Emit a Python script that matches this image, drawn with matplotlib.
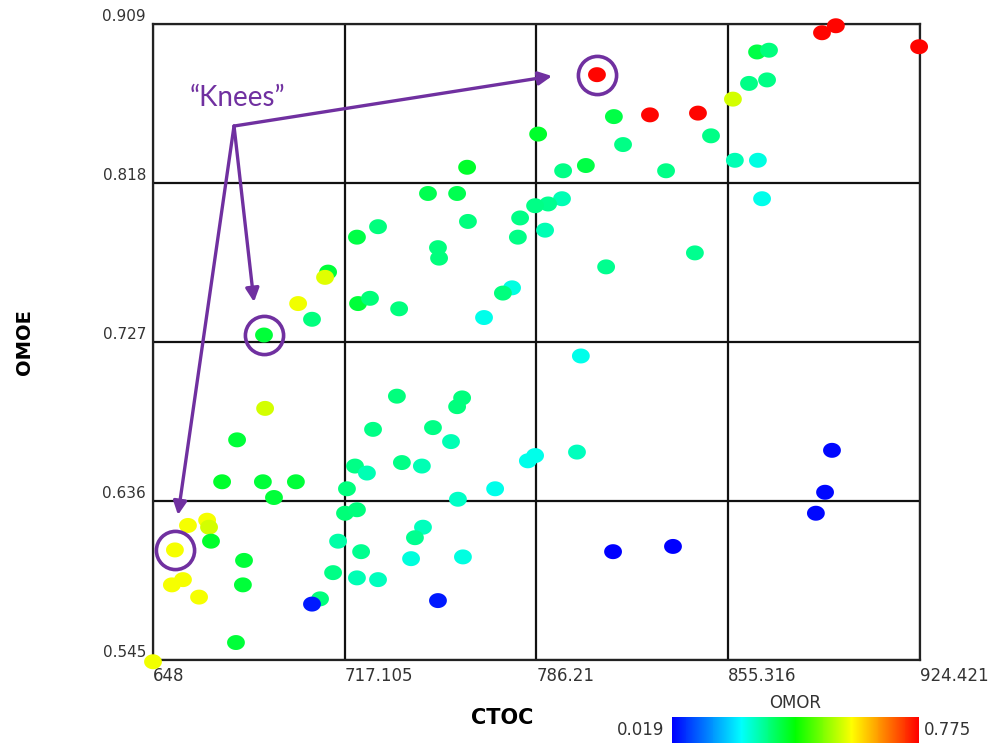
import numpy as np
import matplotlib
matplotlib.use("Agg")
import matplotlib.pyplot as plt
from matplotlib.colors import LinearSegmentedColormap, Normalize
from matplotlib.cm import ScalarMappable
from matplotlib.path import Path

# CTOC / OMOE / OMOR of each design point
ctoc = [924.1, 889.1, 894.1, 865.7, 870.0, 808.0, 862.8, 869.3, 857.0, 827.1,
        844.4, 814.1, 786.8, 817.4, 849.1, 857.7, 866.0, 795.8, 804.0, 832.9,
        867.5, 795.4, 790.4, 785.7, 780.3, 789.3, 779.5, 761.2, 747.1, 757.6,
        761.5, 729.1, 721.5, 750.7, 751.1, 711.1, 710.0, 777.4, 774.1, 700.3,
        721.9, 726.2, 736.7, 705.3, 767.3, 688.0, 843.3, 811.3, 802.2, 735.9,
        759.4, 757.6, 688.4, 678.3, 727.3, 748.9, 755.4, 720.8, 725.1, 737.7,
        744.9, 783.1, 785.7, 800.8, 892.7, 672.9, 687.6, 699.5, 691.6, 717.9,
        771.3, 757.9, 717.2, 721.5, 660.6, 667.5, 668.2, 668.9, 655.9, 714.7,
        745.3, 742.4, 723.0, 741.0, 759.7, 680.8, 712.9, 721.5, 729.1, 654.8,
        658.8, 680.4, 664.6, 708.2, 705.3, 750.7, 677.9, 648.0, 890.2, 886.9,
        813.8, 835.4]
omoe = [0.896, 0.904, 0.908, 0.893, 0.894, 0.880, 0.875, 0.877, 0.866, 0.857,
        0.858, 0.856, 0.846, 0.840, 0.845, 0.831, 0.831, 0.825, 0.828, 0.825,
        0.809, 0.809, 0.806, 0.805, 0.798, 0.791, 0.787, 0.827, 0.812, 0.812,
        0.796, 0.793, 0.787, 0.781, 0.775, 0.767, 0.764, 0.758, 0.755, 0.749,
        0.749, 0.752, 0.746, 0.740, 0.741, 0.731, 0.778, 0.770, 0.719, 0.696,
        0.695, 0.690, 0.689, 0.671, 0.677, 0.678, 0.670, 0.656, 0.652, 0.658,
        0.656, 0.659, 0.662, 0.664, 0.665, 0.647, 0.647, 0.647, 0.638, 0.643,
        0.643, 0.637, 0.629, 0.631, 0.622, 0.625, 0.621, 0.613, 0.608, 0.613,
        0.621, 0.615, 0.607, 0.603, 0.604, 0.602, 0.595, 0.592, 0.591, 0.588,
        0.591, 0.588, 0.581, 0.580, 0.577, 0.579, 0.555, 0.544, 0.641, 0.629,
        0.607, 0.610]
omor = [0.770, 0.770, 0.770, 0.350, 0.315, 0.770, 0.310, 0.310, 0.540, 0.770,
        0.770, 0.350, 0.370, 0.310, 0.310, 0.280, 0.250, 0.310, 0.350, 0.310,
        0.245, 0.280, 0.305, 0.310, 0.310, 0.280, 0.310, 0.370, 0.345, 0.345,
        0.315, 0.315, 0.350, 0.315, 0.315, 0.360, 0.550, 0.250, 0.315, 0.560,
        0.360, 0.320, 0.315, 0.315, 0.245, 0.360, 0.305, 0.305, 0.245, 0.315,
        0.315, 0.315, 0.540, 0.360, 0.310, 0.310, 0.280, 0.310, 0.280, 0.310,
        0.280, 0.245, 0.245, 0.275, 0.025, 0.370, 0.360, 0.360, 0.360, 0.315,
        0.245, 0.270, 0.320, 0.315, 0.565, 0.565, 0.540, 0.370, 0.565, 0.290,
        0.275, 0.305, 0.305, 0.255, 0.250, 0.360, 0.310, 0.280, 0.275, 0.565,
        0.565, 0.360, 0.565, 0.315, 0.040, 0.040, 0.360, 0.560, 0.025, 0.025,
        0.020, 0.020]

x_ticks = [648, 717.105, 786.21, 855.316, 924.421]
y_ticks = [0.545, 0.636, 0.727, 0.818, 0.909]
omor_min, omor_max = 0.019, 0.775

# the three circled "knee" points and where the call-out arrows go
knees = [5, 45, 78]
knee_hub = (677.2, 0.8506)
knee_label = (678.3, 0.8667)
arrow_tips = [(791.8, 0.8792), (684.4, 0.7499), (657.0, 0.6280)]

purple = "#7030a0"
cmap = LinearSegmentedColormap.from_list(
    "omor", [(0.0, "#0000ff"), (0.28, "#00ffff"), (0.5, "#00ff00"),
             (0.73, "#ffff00"), (1.0, "#ff0000")])
norm = Normalize(omor_min, omor_max)

# slightly flattened dot
t = np.linspace(0, 2 * np.pi, 41)
blob = Path(np.column_stack([np.cos(t), 0.84 * np.sin(t)]), closed=True)

fig = plt.figure(figsize=(10.02, 7.45), dpi=100)
ax = fig.add_axes([153 / 1002, 1 - 660 / 745, 767 / 1002, 636 / 745])

ax.scatter(ctoc, omoe, c=omor, cmap=cmap, norm=norm, s=165, marker=blob,
           linewidths=0, zorder=3, clip_on=False)

ax.set_xlim(x_ticks[0], x_ticks[-1])
ax.set_ylim(y_ticks[0], y_ticks[-1])
ax.set_xticks(x_ticks)
ax.set_yticks(y_ticks)
ax.set_xticklabels([f"{v:g}" for v in x_ticks], ha="left", fontsize=12,
                   color="#333333")
ax.set_yticklabels([f"{v:.3f}" for v in y_ticks], va="bottom", fontsize=11,
                   color="#333333")
ax.tick_params(length=0, pad=5)
ax.grid(True, color="#111111", lw=1.6, zorder=1)
for sp in ax.spines.values():
    sp.set_linewidth(1.6)
    sp.set_color("#222222")

ax.set_xlabel("CTOC", fontsize=15, fontweight="bold")
ax.xaxis.set_label_coords(0.455, -0.075)
ax.set_ylabel("OMOE", fontsize=14, fontweight="bold")
ax.yaxis.set_label_coords(-0.155, 0.5)

# knee call-outs
ax.plot([ctoc[i] for i in knees], [omoe[i] for i in knees], "o", ms=27.5,
        mfc="none", mec=purple, mew=2.6, zorder=4, clip_on=False)
for tip in arrow_tips:
    ax.annotate("", xy=tip, xytext=knee_hub,
                arrowprops=dict(arrowstyle="-|>", color=purple, lw=2.4,
                                mutation_scale=20, shrinkA=0, shrinkB=0),
                zorder=5)
ax.text(*knee_label, "\u201cKnees\u201d", color=purple, fontsize=20,
        family="Lato", ha="center", va="center", zorder=5)

# OMOR colour bar
cax = fig.add_axes([672 / 1002, 1 - 743 / 745, 247 / 1002, 26 / 745])
cb = fig.colorbar(ScalarMappable(norm=norm, cmap=cmap), cax=cax,
                  orientation="horizontal")
cb.outline.set_visible(False)
cb.set_ticks([])
fig.text(795 / 1002, 1 - 703 / 745, "OMOR", ha="center", va="center",
         fontsize=12, color="#333333")
fig.text(664 / 1002, 1 - 730 / 745, f"{omor_min:.3f}", ha="right",
         va="center", fontsize=12, color="#333333")
fig.text(924 / 1002, 1 - 730 / 745, f"{omor_max:.3f}", ha="left",
         va="center", fontsize=12, color="#333333")

fig.savefig("out.png", dpi=100)
